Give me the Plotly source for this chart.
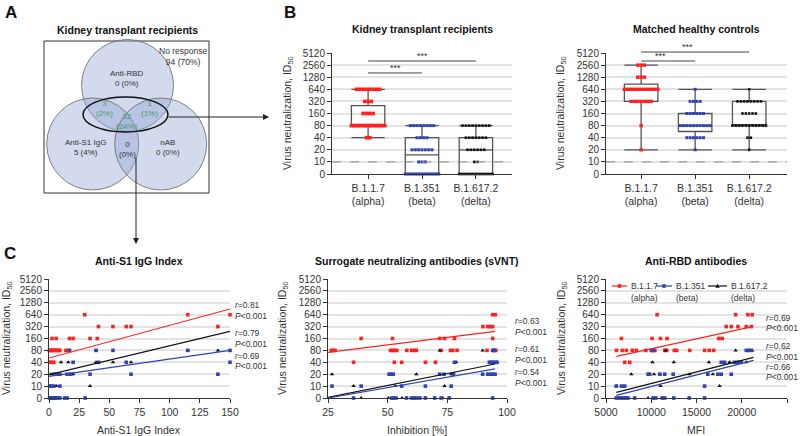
import numpy as np
import plotly.graph_objects as go

W, H = 800, 436
FONT = "Liberation Sans, Arial, Helvetica, sans-serif"
TXT = "#333333"
RED = "#ff2020"
BLUE = "#2f44b0"
BLK = "#111111"
GRID = "#e3e3e3"
AX = "#333333"
GREEN = "#3f9f5f"

# ---------------- data ----------------
id50_ticks = [0, 10, 20, 40, 80, 160, 320, 640, 1280, 2560, 5120]

# Panel A (Venn of responders, kidney transplant recipients)
venn_title = "Kidney transplant recipients"
venn_no_response = "No response<br>94 (70%)"
venn_single = ["Anti-RBD<br>0 (0%)", "Anti-S1 IgG<br>5 (4%)", "nAB<br>0 (0%)"]
venn_overlap = ["3<br>(2%)", "1<br>(1%)", "32<br>(24%)", "0<br>(0%)"]

# Panel B
variants = ["B.1.1.7<br>(alpha)", "B.1.351<br>(beta)", "B.1.617.2<br>(delta)"]
ktr_alpha_levels = [640, 320, 160, 80, 40]
ktr_alpha_counts = [8, 3, 4, 16, 2]
ktr_beta_levels = [80, 40, 20, 10, 0]
ktr_beta_counts = [8, 4, 7, 3, 14]
ktr_delta_levels = [80, 40, 20, 10, 0]
ktr_delta_counts = [9, 7, 6, 2, 15]
ktr_q1 = [80, 0, 0]
ktr_median = [80, 15, 20]
ktr_q3 = [250, 40, 40]
ktr_low = [40, 0, 0]
ktr_high = [640, 80, 80]

hc_alpha_levels = [2560, 1280, 640, 320, 80, 20]
hc_alpha_counts = [3, 3, 12, 7, 1, 1]
hc_beta_levels = [640, 320, 160, 80, 40, 20]
hc_beta_counts = [1, 4, 6, 10, 6, 1]
hc_delta_levels = [640, 320, 160, 80, 40, 20]
hc_delta_counts = [1, 8, 5, 11, 2, 1]
hc_q1 = [320, 57, 80]
hc_median = [640, 80, 80]
hc_q3 = [860, 160, 320]
hc_low = [20, 20, 20]
hc_high = [2560, 640, 640]

# Panel C1: Anti-S1 IgG index
s1_ticks = [0, 25, 50, 75, 100, 125, 150]
s1_alpha_x = [29.6, 115, 150, 41, 53, 64, 68, 140, 2.5, 6, 17, 20, 34, 40,
              0.3, 1, 2, 3, 4, 5, 6, 7, 8, 9, 14, 16, 0.5, 2, 4]
s1_alpha_y = [640, 640, 640, 320, 320, 320, 320, 320, 160, 160, 160, 160, 160, 160,
              80, 80, 80, 80, 80, 80, 80, 80, 80, 80, 80, 80, 40, 40, 40]
s1_beta_x = [17, 39, 53, 115, 150, 20, 41, 64, 150, 4, 6, 9, 15, 18, 34, 68, 140,
             0.5, 2, 4, 9, 0.5, 1.5, 2.5, 3.5, 4.5, 5.5, 7, 9, 13, 15, 30]
s1_beta_y = [80, 80, 80, 80, 80, 40, 40, 40, 40, 20, 20, 20, 20, 20, 20, 20, 20,
             10, 10, 10, 10, 0, 0, 0, 0, 0, 0, 0, 0, 0, 0, 0]
s1_delta_x = [39, 115, 140, 10, 16, 39, 53, 68, 1.5, 7, 20, 1.5, 6, 34, 0.5, 2, 4, 6, 8]
s1_delta_y = [80, 80, 80, 40, 40, 40, 40, 40, 20, 20, 20, 10, 10, 10, 0, 0, 0, 0, 0]
s1_fit_x = [0, 150]
s1_fit_alpha = [3.36, 7.48]   # fitted position on the two-fold dilution axis
s1_fit_beta = [1.82, 4.0]
s1_fit_delta = [1.96, 5.6]
s1_stats = [("0.81", "alpha"), ("0.79", "delta"), ("0.69", "beta")]

# Panel C2: surrogate neutralization (inhibition %)
sv_ticks = [25, 50, 75, 100]
sv_alpha_x = [94, 95.1, 89.9, 91.9, 93, 94, 38.9, 52, 71.8, 73.8, 78, 94,
              26.4, 27.2, 28, 51.2, 52, 52.8, 53.8, 58, 60, 61, 62, 72.4, 76.3, 77.3, 79.1, 91.6, 94.3, 95.3,
              35.7, 52.8, 55.9, 65.8, 70]
sv_alpha_y = [640, 640, 320, 320, 320, 320, 160, 160, 160, 160, 160, 160,
              80, 80, 80, 80, 80, 80, 80, 80, 80, 80, 80, 80, 80, 80, 80, 80, 80, 80,
              40, 40, 40, 40, 40]
sv_beta_x = [94, 94.8, 78, 92.6, 93.4, 94.2, 95, 95.8,
             50.6, 51.4, 52.3, 71.8, 73.6, 77.6, 89.8, 92, 93.2, 94.2, 95,
             26.7, 38.9, 55.9, 65.8, 76.6,
             35.7, 51.7, 52.5, 53.5, 57.9, 60, 61, 62, 63.5, 65.8, 69.7, 72.4, 75.8, 94]
sv_beta_y = [80, 80, 40, 40, 40, 40, 40, 40,
             20, 20, 20, 20, 20, 20, 20, 20, 20, 20, 20,
             10, 10, 10, 10, 10,
             0, 0, 0, 0, 0, 0, 0, 0, 0, 0, 0, 0, 0, 0]
sv_delta_x = [71.8, 89.8, 94.5, 78.7, 95.7, 26.7, 62, 76.6, 91.9, 35.7, 53.1, 73.8,
              38.9, 50.3, 56, 65.8, 73.1, 76]
sv_delta_y = [80, 80, 80, 40, 40, 20, 20, 20, 20, 10, 10, 10, 0, 0, 0, 0, 0, 0]
sv_fit_x = [25, 95]
sv_fit_alpha = [3.84, 5.6]
sv_fit_beta = [0.0, 2.44]
sv_fit_delta = [0.05, 2.86]
sv_stats = [("0.63", "alpha"), ("0.61", "delta"), ("0.54", "beta")]

# Panel C3: anti-RBD antibodies (MFI)
rbd_ticks = [5000, 10000, 15000, 20000, 25000]
rbd_alpha_x = [10650, 19320, 20680, 21160, 18280, 18840, 19580, 20500, 21050,
               6700, 10090, 11020, 11750, 17470, 17840,
               6150, 6800, 7250, 7900, 8350, 9400, 10150, 10400, 11500, 11700, 12550, 12800, 14250, 15900, 16400, 16900,
               7070, 7620]
rbd_alpha_y = [640, 640, 640, 640, 320, 320, 320, 320, 320,
               160, 160, 160, 160, 160, 160,
               80, 80, 80, 80, 80, 80, 80, 80, 80, 80, 80, 80, 80, 80, 80, 80,
               40, 40]
rbd_beta_x = [10020, 10280, 20500, 20790, 21050, 17730, 18100, 19210, 19580, 19940,
              9650, 9830, 10940, 11490, 12420, 16250, 17360, 17730, 18840,
              6140, 6700, 7070, 15890,
              6140, 6400, 6700, 6950, 7200, 7430, 8170, 10200, 10500, 11200, 11490, 12490, 14190, 15890]
rbd_beta_y = [80, 80, 80, 80, 80, 40, 40, 40, 40, 40,
              20, 20, 20, 20, 20, 20, 20, 20, 20,
              10, 10, 10, 10,
              0, 0, 0, 0, 0, 0, 0, 0, 0, 0, 0, 0, 0, 0]
rbd_delta_x = [11600, 19320, 21160, 10130, 12490, 16370, 18650, 20500,
               7800, 10310, 10980, 14220, 16810, 6140, 11020, 17550, 9650]
rbd_delta_y = [80, 80, 80, 40, 40, 40, 40, 40, 20, 20, 20, 20, 20, 10, 10, 10, 0]
rbd_fit_x = [6150, 21300]
rbd_fit_alpha = [3.5, 6.02]
rbd_fit_beta = [0.22, 3.16]
rbd_fit_delta = [0.47, 3.41]
rbd_stats = [("0.69", "alpha"), ("0.62", "delta"), ("0.66", "beta")]

legend_names = ["B.1.1.7", "B.1.351", "B.1.617.2"]
legend_sub = ["(alpha)", "(beta)", "(delta)"]

# ---------------- helpers ----------------
def tr(v):
    v = np.asarray(v, dtype=float)
    return np.where(v > 0, np.log2(np.maximum(v, 1) / 10.0) + 1, 0.0)


def PX(x):
    return x / W


def PY(y):
    return 1 - y / H


def spread(levels, counts, center, maxspan=0.62, sp=0.062):
    xs, ys = [], []
    for lv, n in zip(levels, counts):
        s = min(sp, maxspan / (n - 1)) if n > 1 else 0
        off = (np.arange(n) - (n - 1) / 2) * s
        xs += list(center + off)
        ys += [lv] * n
    return xs, tr(ys)


# panel geometry in pixels: (left, right, top, bottom)
panels = {
    "B1": dict(px=(332, 512, 53, 174), xr=[-0.67, 2.67]),
    "B2": dict(px=(606, 787, 53, 174), xr=[-0.65, 2.70]),
    "C1": dict(px=(49, 230, 279, 398), xr=[0, 150], ticks=s1_ticks),
    "C2": dict(px=(328, 507, 279, 398), xr=[25, 100], ticks=sv_ticks),
    "C3": dict(px=(606, 787, 279, 398), xr=[5000, 25000], ticks=rbd_ticks),
}
axis_ids = {"B1": "", "B2": "2", "C1": "3", "C2": "4", "C3": "5"}

fig = go.Figure()
layout = dict(
    width=W, height=H, autosize=False,
    margin=dict(l=0, r=0, t=0, b=0, pad=0, autoexpand=False),
    paper_bgcolor="white", plot_bgcolor="white",
    font=dict(family=FONT, color=TXT, size=10),
    showlegend=False,
)

yaxis_common = dict(
    range=[0, 10], tickvals=list(range(11)), ticktext=[str(v) for v in id50_ticks],
    showgrid=True, gridcolor=GRID, gridwidth=1.5, showline=True, linecolor=AX, linewidth=1,
    ticks="outside", ticklen=4, tickcolor=AX, tickfont=dict(size=10, color=TXT), zeroline=False,
    fixedrange=True, automargin=False,
)

for key, p in panels.items():
    l, r, t, b = p["px"]
    i = axis_ids[key]
    xa = dict(domain=[PX(l), PX(r)], range=p["xr"], anchor="y" + i, showgrid=False,
              showline=True, linecolor=AX, linewidth=1, ticks="outside", ticklen=4,
              tickcolor=AX, zeroline=False, tickfont=dict(size=10.5, color=TXT),
              fixedrange=True, automargin=False)
    if key.startswith("B"):
        xa.update(tickvals=[0, 1, 2], ticktext=variants)
    else:
        xa.update(tickvals=p["ticks"], ticktext=[str(v) for v in p["ticks"]])
    ya = dict(yaxis_common, domain=[PY(b), PY(t)], anchor="x" + i)
    layout["xaxis" + i] = xa
    layout["yaxis" + i] = ya


def to_paper(key, xv, yv):
    l, r, t, b = panels[key]["px"]
    x0, x1 = panels[key]["xr"]
    px = l + (xv - x0) / (x1 - x0) * (r - l)
    py = b - yv / 10.0 * (b - t)
    return PX(px), PY(py)


# ---------------- Panel B ----------------
box_groups = [
    ("B1", ktr_q1, ktr_median, ktr_q3, ktr_low, ktr_high,
     [(ktr_alpha_levels, ktr_alpha_counts, RED, 3.6),
      (ktr_beta_levels, ktr_beta_counts, BLUE, 3),
      (ktr_delta_levels, ktr_delta_counts, BLK, 2.6)]),
    ("B2", hc_q1, hc_median, hc_q3, hc_low, hc_high,
     [(hc_alpha_levels, hc_alpha_counts, RED, 3.4),
      (hc_beta_levels, hc_beta_counts, BLUE, 3),
      (hc_delta_levels, hc_delta_counts, BLK, 2.6)]),
]
for key, q1, med, q3, lo, hi, groups in box_groups:
    i = axis_ids[key]
    fig.add_trace(go.Box(
        x=[0, 1, 2], q1=tr(q1), median=tr(med), q3=tr(q3), lowerfence=tr(lo), upperfence=tr(hi),
        width=0.62, whiskerwidth=1, boxpoints=False, fillcolor="rgba(0,0,0,0)",
        line=dict(color="#555555", width=1.3), xaxis="x" + i, yaxis="y" + i, hoverinfo="skip"))
    for ci, (levels, counts, col, sz) in enumerate(groups):
        xs, ys = spread(levels, counts, ci)
        fig.add_trace(go.Scatter(x=xs, y=ys, mode="markers", cliponaxis=False,
                                 marker=dict(symbol="square", size=sz, color=col, line=dict(width=0)),
                                 xaxis="x" + i, yaxis="y" + i, hoverinfo="skip"))

shapes = []
annotations = []

# dashed limit-of-detection line at 10
for key in ["B1", "B2"]:
    l, r, t, b = panels[key]["px"]
    _, yy = to_paper(key, 0, tr([10])[0])
    shapes.append(dict(type="line", xref="paper", yref="paper", x0=PX(l), x1=PX(r), y0=yy, y1=yy,
                       line=dict(color="#8a8a8a", width=1, dash="dash"), layer="above"))

# significance bars
sig_bars = {"B1": [(0, 2, 9.34), (0, 1, 8.35)], "B2": [(0, 2, 10.08), (0, 1, 9.34)]}
for key, bars in sig_bars.items():
    for xa_, xb_, yv in bars:
        xa_p, y_p = to_paper(key, xa_, yv)
        xb_p, _ = to_paper(key, xb_, yv)
        shapes.append(dict(type="line", xref="paper", yref="paper", x0=xa_p, x1=xb_p, y0=y_p, y1=y_p,
                           line=dict(color="#444444", width=1)))
        annotations.append(dict(x=(xa_p + xb_p) / 2, y=y_p, xref="paper", yref="paper", text="***",
                                showarrow=False, yanchor="bottom", yshift=-2,
                                font=dict(size=9, color=TXT)))

# ---------------- Panel C ----------------
c_sets = [
    ("C1", [(s1_alpha_x, s1_alpha_y, RED, "square"), (s1_delta_x, s1_delta_y, BLK, "triangle-up"),
            (s1_beta_x, s1_beta_y, BLUE, "square")],
     s1_fit_x, [(s1_fit_alpha, RED), (s1_fit_delta, BLK), (s1_fit_beta, BLUE)]),
    ("C2", [(sv_alpha_x, sv_alpha_y, RED, "square"), (sv_delta_x, sv_delta_y, BLK, "triangle-up"),
            (sv_beta_x, sv_beta_y, BLUE, "square")],
     sv_fit_x, [(sv_fit_alpha, RED), (sv_fit_delta, BLK), (sv_fit_beta, BLUE)]),
    ("C3", [(rbd_alpha_x, rbd_alpha_y, RED, "square"), (rbd_delta_x, rbd_delta_y, BLK, "triangle-up"),
            (rbd_beta_x, rbd_beta_y, BLUE, "square")],
     rbd_fit_x, [(rbd_fit_alpha, RED), (rbd_fit_delta, BLK), (rbd_fit_beta, BLUE)]),
]
for key, pts, fx, fits in c_sets:
    i = axis_ids[key]
    for xs, ys, col, sym in pts:
        fig.add_trace(go.Scatter(x=xs, y=tr(ys), mode="markers", cliponaxis=False,
                                 marker=dict(symbol=sym, size=3.6 if sym == "square" else 4,
                                             color=col, line=dict(width=0)),
                                 xaxis="x" + i, yaxis="y" + i, hoverinfo="skip"))
    for fy, col in fits:
        fig.add_trace(go.Scatter(x=fx, y=fy, mode="lines", line=dict(color=col, width=1.2),
                                 xaxis="x" + i, yaxis="y" + i, hoverinfo="skip"))

# correlation labels
stat_pos = {"C1": (233, [(305, 314), (333, 342), (356, 364)]),
            "C2": (513, [(321, 330), (349, 358), (372, 381)]),
            "C3": (764, [(318, 326), (346, 355), (367, 375)])}
for key, stats in [("C1", s1_stats), ("C2", sv_stats), ("C3", rbd_stats)]:
    x0, rows = stat_pos[key]
    for (rv, _), (yr, yp) in zip(stats, rows):
        annotations.append(dict(x=PX(x0), y=PY(yr), xref="paper", yref="paper", xanchor="left",
                                yanchor="middle", showarrow=False, text="<i>r</i>=" + rv,
                                font=dict(size=8.5, color=TXT)))
        annotations.append(dict(x=PX(x0), y=PY(yp + 2), xref="paper", yref="paper", xanchor="left",
                                yanchor="middle", showarrow=False, text="<i>P</i>&lt;0.001",
                                font=dict(size=8.5, color=TXT)))

# manual legend in panel C3
leg_items = [(612, 627, RED, "square"), (656, 672, BLUE, "square"), (708, 727, BLK, "triangle")]
for (xa_, xb_, col, sym), nm, sub in zip(leg_items, legend_names, legend_sub):
    yl = 286
    shapes.append(dict(type="line", xref="paper", yref="paper", x0=PX(xa_), x1=PX(xb_),
                       y0=PY(yl), y1=PY(yl), line=dict(color=col, width=1.2)))
    cx = (xa_ + xb_) / 2
    if sym == "square":
        shapes.append(dict(type="rect", xref="paper", yref="paper", x0=PX(cx - 1.8), x1=PX(cx + 1.8),
                           y0=PY(yl + 1.8), y1=PY(yl - 1.8), fillcolor=col, line=dict(width=0)))
    else:
        shapes.append(dict(type="path", xref="paper", yref="paper",
                           path=f"M {PX(cx-2.2)} {PY(yl+1.8)} L {PX(cx+2.2)} {PY(yl+1.8)} L {PX(cx)} {PY(yl-2.2)} Z",
                           fillcolor=col, line=dict(width=0)))
    annotations.append(dict(x=PX(xb_ + 2), y=PY(yl), xref="paper", yref="paper", xanchor="left",
                            yanchor="middle", showarrow=False, text=nm, font=dict(size=8.5, color=TXT)))
    annotations.append(dict(x=PX(xb_ + 2), y=PY(yl + 12), xref="paper", yref="paper", xanchor="left",
                            yanchor="middle", showarrow=False, text=sub, font=dict(size=8.5, color=TXT)))

# ---------------- titles / axis titles ----------------
def text(x, y, s, size=10, bold=False, angle=0, color=TXT, xanchor="center"):
    annotations.append(dict(x=PX(x), y=PY(y), xref="paper", yref="paper", showarrow=False,
                            text=("<b>%s</b>" % s) if bold else s, textangle=angle,
                            xanchor=xanchor, yanchor="middle", font=dict(size=size, color=color)))


text(3, 12, "A", size=17, bold=True, color="#111", xanchor="left")
text(282, 12, "B", size=17, bold=True, color="#111", xanchor="left")
text(2, 254, "C", size=17, bold=True, color="#111", xanchor="left")

text(127, 30, venn_title, size=10.5, bold=True, color="#111")
text(422, 29, "Kidney transplant recipients", size=10.5, bold=True, color="#111")
text(696, 29, "Matched healthy controls", size=10.5, bold=True, color="#111")
text(139, 261, "Anti-S1 IgG Index", size=10.5, bold=True, color="#111")
text(417, 261, "Surrogate neutralizing antibodies (sVNT)", size=10.5, bold=True, color="#111")
text(696, 261, "Anti-RBD antibodies", size=10.5, bold=True, color="#111")

ytitle = "Virus neutralization, ID<sub>50</sub>"
for x, y in [(288, 113), (561, 113), (7, 338), (283, 338), (562, 338)]:
    text(x, y, ytitle, size=10.5, angle=-90)
text(139, 430, "Anti-S1 IgG Index", size=10.5)
text(417, 430, "Inhibition [%]", size=10.5)
text(696, 430, "MFI", size=10.5)

# ---------------- Panel A Venn ----------------
shapes.append(dict(type="rect", xref="paper", yref="paper", x0=PX(44), x1=PX(209), y0=PY(193), y1=PY(41),
                   line=dict(color="#333", width=1), fillcolor="white", layer="below"))
for cx, cy in [(127.5, 85.5), (92.7, 144), (160.7, 144)]:
    rr = 46
    shapes.append(dict(type="circle", xref="paper", yref="paper", x0=PX(cx - rr), x1=PX(cx + rr),
                       y0=PY(cy + rr), y1=PY(cy - rr), fillcolor="rgba(150,166,215,0.42)",
                       line=dict(color="#666", width=0.8)))
shapes.append(dict(type="circle", xref="paper", yref="paper", x0=PX(83), x1=PX(168), y0=PY(132), y1=PY(97),
                   fillcolor="rgba(0,0,0,0)", line=dict(color="#111", width=1.5)))

text(183, 56, venn_no_response, size=8.5)
text(127.5, 78, venn_single[0], size=8)
text(85, 147, venn_single[1], size=8)
text(168, 147, venn_single[2], size=8)
text(104, 108, venn_overlap[0], size=8, color=GREEN)
text(149, 108, venn_overlap[1], size=8, color=GREEN)
text(127.5, 121, venn_overlap[2], size=8, color=GREEN)
text(127.5, 149, venn_overlap[3], size=8)

# arrows
annotations.append(dict(x=PX(269), y=PY(117), xref="paper", yref="paper", ax=-102, ay=0, text="",
                        showarrow=True, arrowhead=2, arrowsize=1.2, arrowwidth=1, arrowcolor="#222"))
annotations.append(dict(x=PX(136), y=PY(244), xref="paper", yref="paper", ax=0, ay=-88, text="",
                        showarrow=True, arrowhead=2, arrowsize=1.2, arrowwidth=1, arrowcolor="#222"))

layout["shapes"] = shapes
layout["annotations"] = annotations
fig.update_layout(**layout)

# remove the default page margin so the 800x436 figure fills the window exactly
page_fix = ("document.documentElement.style.margin='0';document.documentElement.style.padding='0';"
            "document.body.style.margin='0';document.body.style.padding='0';"
            "document.body.style.overflow='hidden';")
fig.write_html("out.html", post_script=page_fix, config={"displayModeBar": False})
